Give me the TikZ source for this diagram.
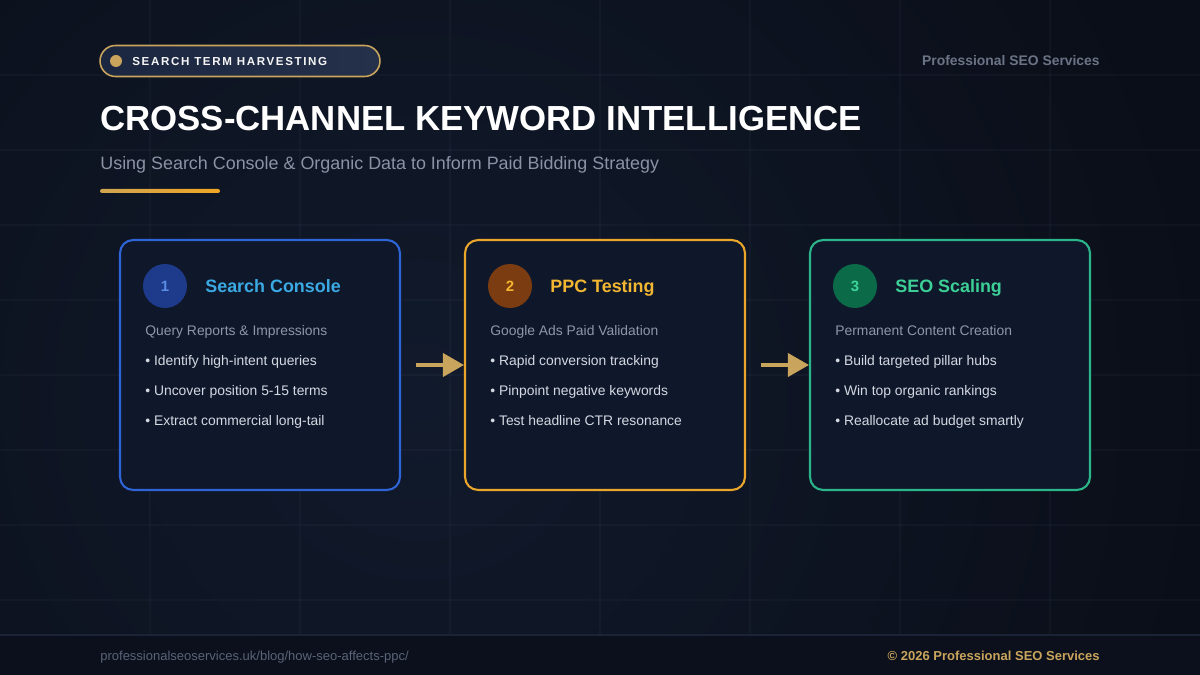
\documentclass[tikz,border=0pt]{standalone}
\usepackage{fontspec}
\setmainfont{Liberation Sans}
\usetikzlibrary{arrows.meta,positioning}
\definecolor{bgdark}{HTML}{0A0E18}
\definecolor{bgglow}{HTML}{111A2C}
\definecolor{gridln}{HTML}{8090B0}
\definecolor{footbg}{HTML}{0B101C}
\definecolor{footln}{HTML}{1B2437}
\definecolor{cardbg}{HTML}{0F182B}
\definecolor{gold}{HTML}{C9A45C}
\definecolor{bar}{HTML}{F0A623}
\definecolor{badgeL}{HTML}{1B2640}
\definecolor{badgeR}{HTML}{25304A}
\definecolor{mute}{HTML}{6B7486}
\definecolor{subgray}{HTML}{8E97A8}
\definecolor{subtle}{HTML}{8A93A5}
\definecolor{itemtx}{HTML}{D3D8E1}
\definecolor{urlgray}{HTML}{5A6377}
\definecolor{blueln}{HTML}{2F64D6}
\definecolor{bluefill}{HTML}{1E3A8A}
\definecolor{bluenum}{HTML}{5A8EE6}
\definecolor{bluehd}{HTML}{3BA9E3}
\definecolor{orangeln}{HTML}{E9A62B}
\definecolor{orangefill}{HTML}{7C3C12}
\definecolor{orangenum}{HTML}{F5B52E}
\definecolor{orangehd}{HTML}{F2B632}
\definecolor{greenln}{HTML}{2BB58A}
\definecolor{greenfill}{HTML}{0B6A48}
\definecolor{greennum}{HTML}{3ED49B}
\definecolor{greenhd}{HTML}{3CCF96}

\begin{document}
\begin{tikzpicture}[
    x=0.02cm, y=-0.02cm,
    every node/.style={inner sep=0pt},
    gridline/.style={gridln, line width=0.6pt, opacity=0.05},
    card/.style={draw, line width=1.2pt, fill=cardbg, rounded corners=0.26cm, minimum width=5.6cm, minimum height=5cm},
    num/.style={circle, minimum size=0.88cm, font=\fontsize{8.5}{10}\selectfont\bfseries},
    head/.style={anchor=base west, font=\fontsize{10.2}{12}\selectfont\bfseries},
    sub/.style={anchor=base west, text=subgray, font=\fontsize{7.9}{9}\selectfont},
    item/.style={anchor=base west, text=itemtx, font=\fontsize{7.9}{9}\selectfont},
    arrow/.style={-{Triangle[length=0.42cm, width=0.46cm]}, line width=2.2pt, color=gold}
]
\useasboundingbox (0,0) rectangle (1200,675);
\fill[bgdark] (0,0) rectangle (1200,675);
\begin{scope}
\clip (0,0) rectangle (1200,675);
\shade[inner color=bgglow, outer color=bgdark] (420,400) circle (16cm);
\end{scope}
\foreach \gx in {150,300,...,1050} \draw[gridline] (\gx,0) -- (\gx,635);
\foreach \gy in {75,150,...,600} \draw[gridline] (0,\gy) -- (1200,\gy);
\fill[footbg] (0,635) rectangle (1200,675);
\draw[footln, line width=1.2pt] (0,635) -- (1200,635);

\node[draw=gold, line width=0.9pt, left color=badgeL, right color=badgeR, rounded corners=0.31cm, minimum width=5.6cm, minimum height=0.62cm] (badge) at (240,61) {};
\node[circle, fill=gold, minimum size=0.24cm] (dot) at (116,61) {};
\node[anchor=base west, text=white!92!gray, font=\fontsize{6.6}{8}\selectfont\bfseries\addfontfeature{LetterSpace=14}] (tag) at (132,65.5) {SEARCH TERM HARVESTING};
\node[anchor=base east, text=mute, font=\fontsize{7.9}{9}\selectfont\bfseries] (brand) at (1100,66) {Professional SEO Services};
\node[anchor=base west, text=white, font=\fontsize{19.8}{24}\selectfont\bfseries] (title) at (100,131) {CROSS-CHANNEL KEYWORD INTELLIGENCE};
\node[anchor=base west, text=subtle, font=\fontsize{10.2}{12}\selectfont] (subtitle) at (100,170) {Using Search Console \& Organic Data to Inform Paid Bidding Strategy};
\shade[left color=gold!80!bar, right color=bar, rounded corners=0.04cm] (100,189) rectangle (220,193);

\node[card, draw=blueln] (c1) at (260,365) {};
\node[card, draw=orangeln] (c2) at (605,365) {};
\node[card, draw=greenln] (c3) at (950,365) {};

\node[num, fill=bluefill, text=bluenum] (n1) at (165,286) {1};
\node[head, text=bluehd] (h1) at (205,292.5) {Search Console};
\node[sub] (s1) at (145,335.5) {Query Reports \& Impressions};
\node[item] (i1a) at (145,365.5) {\textbullet\ Identify high-intent queries};
\node[item] (i1b) at (145,395.5) {\textbullet\ Uncover position 5-15 terms};
\node[item] (i1c) at (145,425.5) {\textbullet\ Extract commercial long-tail};

\node[num, fill=orangefill, text=orangenum] (n2) at (510,286) {2};
\node[head, text=orangehd] (h2) at (550,292.5) {PPC Testing};
\node[sub] (s2) at (490,335.5) {Google Ads Paid Validation};
\node[item] (i2a) at (490,365.5) {\textbullet\ Rapid conversion tracking};
\node[item] (i2b) at (490,395.5) {\textbullet\ Pinpoint negative keywords};
\node[item] (i2c) at (490,425.5) {\textbullet\ Test headline CTR resonance};

\node[num, fill=greenfill, text=greennum] (n3) at (855,286) {3};
\node[head, text=greenhd] (h3) at (895,292.5) {SEO Scaling};
\node[sub] (s3) at (835,335.5) {Permanent Content Creation};
\node[item] (i3a) at (835,365.5) {\textbullet\ Build targeted pillar hubs};
\node[item] (i3b) at (835,395.5) {\textbullet\ Win top organic rankings};
\node[item] (i3c) at (835,425.5) {\textbullet\ Reallocate ad budget smartly};

\draw[arrow] ([xshift=0.3cm]c1.east) -- (c2.west);
\draw[arrow] ([xshift=0.3cm]c2.east) -- (c3.west);

\node[anchor=base west, text=urlgray, font=\fontsize{7.4}{9}\selectfont] (url) at (100,660) {professionalseoservices.uk/blog/how-seo-affects-ppc/};
\node[anchor=base east, text=gold, font=\fontsize{7.4}{9}\selectfont\bfseries] (copy) at (1100,660) {\textcopyright\ 2026 Professional SEO Services};
\end{tikzpicture}
\end{document}
